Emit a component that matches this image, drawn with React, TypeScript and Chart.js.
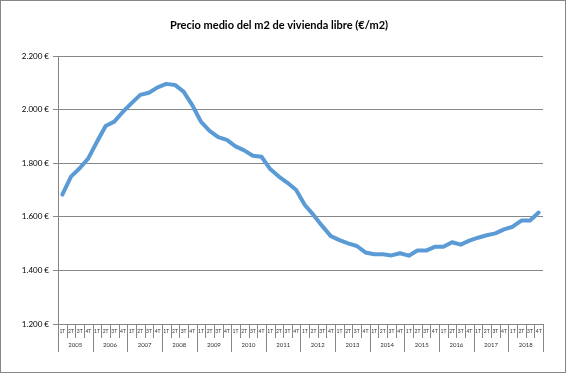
import React, { useEffect, useRef } from "react";
import { Chart, registerables } from "chart.js";

Chart.register(...registerables);

const YEARS = ["2005","2006","2007","2008","2009","2010","2011","2012","2013","2014","2015","2016","2017","2018"];
const QUARTERS = ["1T","2T","3T","4T"];
const CATEGORIES: string[] = YEARS.flatMap((y) => QUARTERS.map((q) => `${q} ${y}`));

const PRICES = [
  1683, 1750, 1781, 1818,
  1880, 1939, 1955, 1992,
  2024, 2055, 2063, 2083,
  2096, 2092, 2067, 2017,
  1955, 1921, 1897, 1887,
  1863, 1848, 1828, 1824,
  1778, 1750, 1727, 1700,
  1644, 1607, 1566, 1528,
  1513, 1501, 1491, 1467,
  1460, 1460, 1456, 1464,
  1455, 1474, 1474, 1488,
  1488, 1505, 1496, 1511,
  1522, 1531, 1538, 1553,
  1563, 1586, 1586, 1616,
];

const TITLE = "Precio medio del m2 de vivienda libre (€/m2)";
const Y_MIN = 1200;
const Y_MAX = 2200;
const Y_STEP = 200;

const GRAY = "#878787";
const FONT = "Lato, 'Open Sans', sans-serif";

const fmt = (v: number) => v.toLocaleString("de-DE") + " €";

const decorPlugin = {
  id: "decor",
  afterDraw(chart: any) {
    const ctx = chart.ctx;
    const xs = chart.scales.x;
    const area = chart.chartArea;
    const base = area.bottom;
    const step = xs.getPixelForValue(1) - xs.getPixelForValue(0);
    const half = step / 2;
    ctx.save();
    // outer border
    ctx.strokeStyle = GRAY;
    ctx.lineWidth = 1;
    ctx.strokeRect(0.5, 0.5, 565, 372);
    // title
    ctx.fillStyle = "#000";
    ctx.font = `bold 11px ${FONT}`;
    ctx.textAlign = "center";
    ctx.textBaseline = "middle";
    ctx.fillText(TITLE, 279, 25);
    // x-axis separators and labels
    ctx.strokeStyle = GRAY;
    ctx.lineWidth = 1;
    CATEGORIES.forEach((_, i) => {
      const c = xs.getPixelForValue(i);
      const left = Math.round(c - half) + 0.5;
      const isYear = i % 4 === 0;
      ctx.beginPath();
      ctx.moveTo(left, base);
      ctx.lineTo(left, base + (isYear ? 28 : 14));
      ctx.stroke();
      ctx.fillStyle = "#333";
      ctx.font = `5px ${FONT}`;
      ctx.fillText(QUARTERS[i % 4], c, base + 7);
    });
    const lastRight = Math.round(xs.getPixelForValue(CATEGORIES.length - 1) + half) + 0.5;
    ctx.beginPath();
    ctx.moveTo(lastRight, base);
    ctx.lineTo(lastRight, base + 28);
    ctx.stroke();
    YEARS.forEach((y, k) => {
      const a = xs.getPixelForValue(k * 4);
      const b = xs.getPixelForValue(k * 4 + 3);
      ctx.fillStyle = "#333";
      ctx.font = `6px ${FONT}`;
      ctx.fillText(y, (a + b) / 2, base + 21);
    });
    ctx.restore();
  },
};

export default function App() {
  const ref = useRef<HTMLCanvasElement | null>(null);
  useEffect(() => {
    if (!ref.current) return;
    const chart = new Chart(ref.current, {
      type: "line",
      data: {
        labels: CATEGORIES,
        datasets: [
          {
            label: "Precio",
            data: PRICES,
            borderColor: "#5B9BD5",
            borderWidth: 4,
            pointRadius: 0,
            tension: 0,
            borderJoinStyle: "round",
            borderCapStyle: "round",
          },
        ],
      },
      options: {
        animation: false,
        responsive: false,
        devicePixelRatio: 1,
        layout: { padding: { left: 0, right: 25, top: 56, bottom: 0 } },
        plugins: { legend: { display: false }, title: { display: false }, tooltip: { enabled: false } },
        scales: {
          x: {
            type: "category",
            offset: true,
            grid: { display: false },
            border: { display: false },
            ticks: { display: false },
            afterFit: (s: any) => { s.height = 50; },
          },
          y: {
            min: Y_MIN,
            max: Y_MAX,
            grid: { color: GRAY, lineWidth: 1, tickLength: 5, tickColor: GRAY },
            border: { display: true, color: GRAY },
            ticks: {
              stepSize: Y_STEP,
              padding: 4,
              color: "#000",
              font: { family: FONT, size: 8 },
              callback: (v: any) => fmt(Number(v)),
            },
            afterFit: (s: any) => { s.width = 58; },
          },
        },
      },
      plugins: [decorPlugin],
    });
    return () => chart.destroy();
  }, []);
  return (
    <div style={{ position: "fixed", left: 0, top: 0, width: 568, height: 374, background: "#fff" }}>
      <canvas ref={ref} width={568} height={374} />
    </div>
  );
}
